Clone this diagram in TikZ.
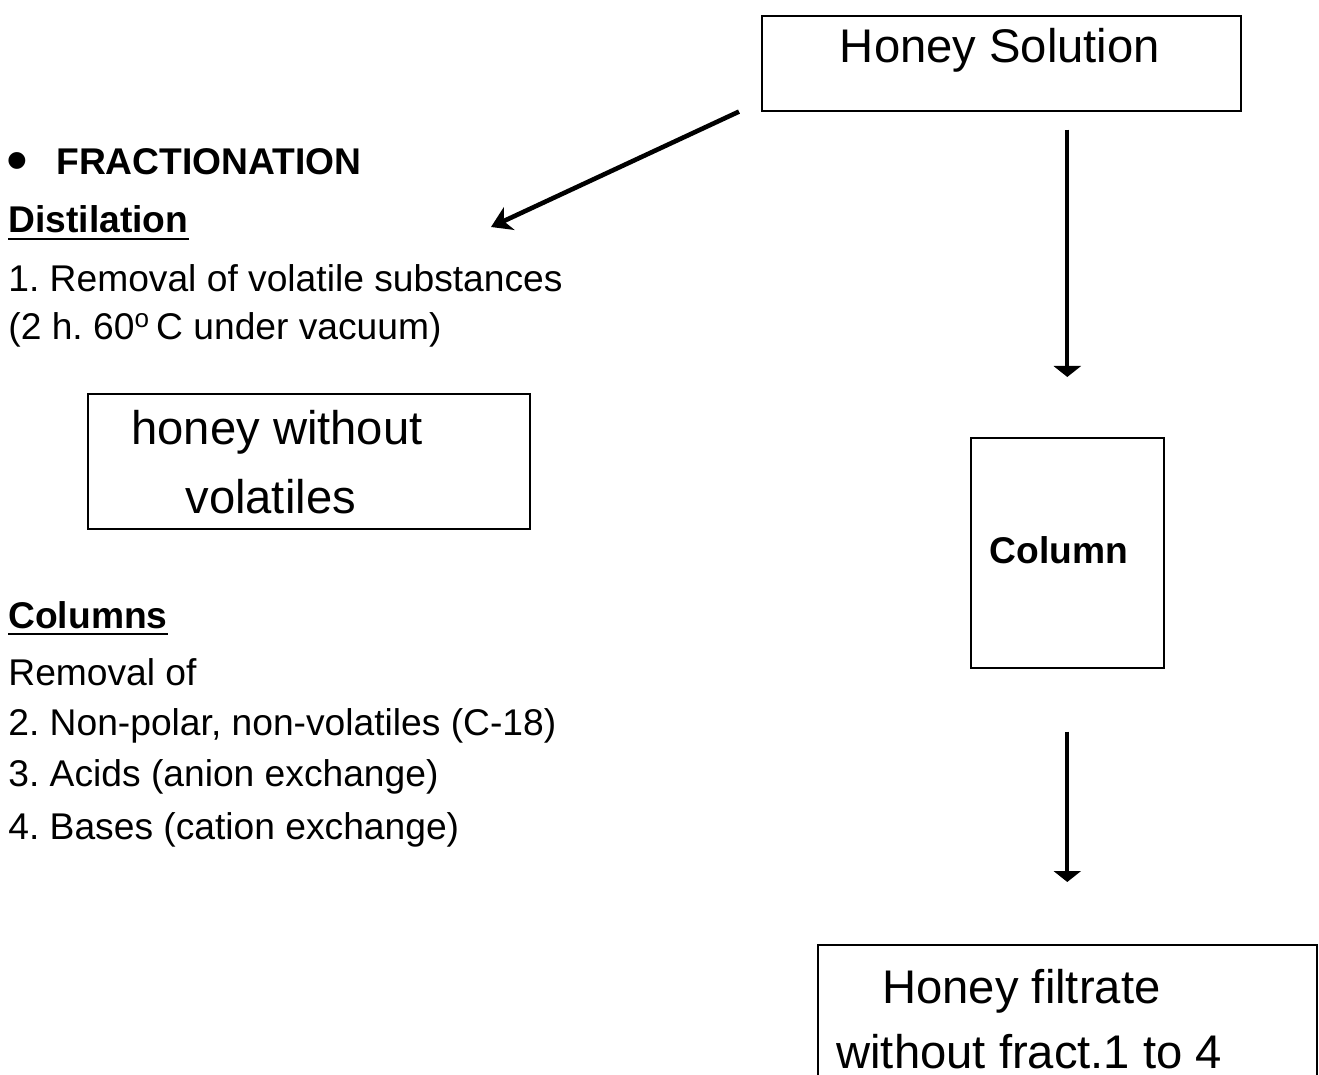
\documentclass[tikz,border=0pt]{standalone}
\usepackage{fontspec}
\setmainfont{Liberation Sans}
\usetikzlibrary{arrows.meta}
\frenchspacing

\begin{document}
\begin{tikzpicture}[
  x=0.5pt, y=-0.5pt,
  every node/.style = {inner sep=0pt},
  plain/.style = {anchor=base west, font=\fontsize{18.6}{22}\selectfont},
  head/.style = {anchor=base west, font=\fontsize{18.6}{22}\selectfont\bfseries},
  big/.style = {anchor=base west, font=\fontsize{23.6}{28}\selectfont},
  box/.style = {draw, line width=0.8pt, anchor=north west},
  down/.style = {draw, line width=1.9pt, -{Triangle[width=13.5pt, length=5.5pt]}},
  side/.style = {draw, line width=2.3pt, -{Stealth[width=12.5pt, length=10pt, inset=3pt]}},
  ul/.style = {line width=1.4pt}
]
\useasboundingbox (0,0) rectangle (1319,1075);
\clip (0,0) rectangle (1319,1075);

% right side: the flow
\node[box, minimum width=239.5pt, minimum height=47.5pt] (sol) at (761,15) {};
\node[big, anchor=base] (soltxt) at (1000,63) {Honey Solution};
\node[box, minimum width=96.5pt, minimum height=115pt] (col) at (970,437) {};
\node[head, anchor=base] (coltxt) at (1059,563) {Column};
\node[box, minimum width=249.5pt, minimum height=90pt] (filt) at (817,944) {}; % runs off the page
\node[big] (filt1) at (882,1003) {Honey filtrate};
\node[big] (filt2) at (836,1068) {without fract.1 to 4};

% left side: the notes
\node[anchor=base west, font=\fontsize{31}{31}\selectfont] (bul) at (6,182) {•};
\node[head] (frac) at (56,175) {FRACTIONATION};
\node[head] (dist) at (8,233) {Distilation};
\draw[ul] ([yshift=-3pt]dist.base west) -- ([yshift=-3pt]dist.base east);
\node[plain] (rem1) at (8,292) {1. Removal of volatile substances};
\node[plain] (cond) at (8,340) {(2 h. 60\textsuperscript{o}\,C under vacuum)};

\node[box, minimum width=221pt, minimum height=67.5pt] (novol) at (87,393) {};
\node[big] (novol1) at (131,445) {honey without};
\node[big] (novol2) at (185,514) {volatiles};

\node[head] (cols) at (8,628) {Columns};
\draw[ul] ([yshift=-3pt]cols.base west) -- ([yshift=-3pt]cols.base east);
\node[plain] (rem2) at (8,685) {Removal of};
\node[plain] (nonpol) at (8,735) {2. Non-polar, non-volatiles (C-18)};
\node[plain] (acids) at (8,786) {3. Acids (anion exchange)};
\node[plain] (bases) at (8,839) {4. Bases (cation exchange)};

% arrows
\coordinate (distend) at (491,227);
\draw[side] ([xshift=-11pt]sol.south west) -- (distend);
\draw[down, shorten <=9pt, shorten >=30pt] (col.north |- sol.south) -- (col.north);
\draw[down, shorten <=31.5pt, shorten >=31pt] (col.south) -- (filt.north);
\end{tikzpicture}
\end{document}
